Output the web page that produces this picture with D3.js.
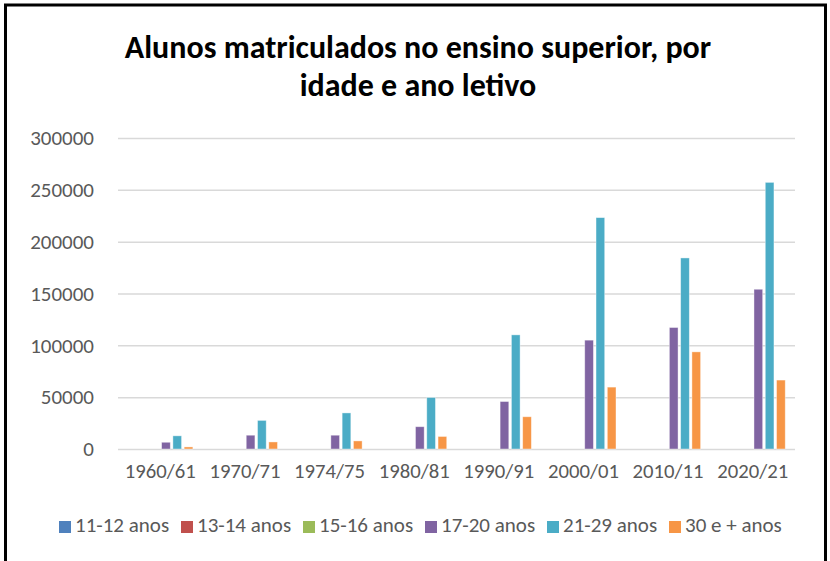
<!DOCTYPE html>
<html>
<head>
<meta charset="utf-8">
<script src="https://cdnjs.cloudflare.com/ajax/libs/d3/7.8.5/d3.min.js"></script>
<style>
  body { margin: 0; background: #fff; }
  svg { display: block; }
</style>
</head>
<body>
<div id="chart"></div>
<script>
var anos = ["1960/61", "1970/71", "1974/75", "1980/81", "1990/91", "2000/01", "2010/11", "2020/21"];
var series = ["11-12 anos", "13-14 anos", "15-16 anos", "17-20 anos", "21-29 anos", "30 e + anos"];
var cores = ["#4F81BD", "#C0504D", "#9BBB59", "#8064A2", "#4BACC6", "#F79646"];

var idade11_12 = [0, 0, 0, 0, 0, 0, 0, 0];
var idade13_14 = [0, 0, 0, 0, 0, 0, 0, 0];
var idade15_16 = [0, 0, 0, 0, 0, 0, 0, 0];
var idade17_20 = [6500, 13300, 13300, 21500, 45800, 105000, 117200, 154100];
var idade21_29 = [12700, 27600, 34800, 49700, 110100, 223200, 184300, 257200];
var idade30mais = [2000, 6800, 7800, 12100, 31100, 59700, 93700, 66500];

var yTicks = [0, 50000, 100000, 150000, 200000, 250000, 300000];

var valores = [idade11_12, idade13_14, idade15_16, idade17_20, idade21_29, idade30mais];

var width = 830, height = 561;
var plot = {left: 118, right: 795, top: 138, bottom: 449};
var fonte = "Carlito, Lato, sans-serif";

var svg = d3.select("#chart").append("svg")
    .attr("width", width)
    .attr("height", height);

// moldura
svg.append("rect")
    .attr("x", 5.5).attr("y", 5)
    .attr("width", 820).attr("height", 600)
    .attr("fill", "white")
    .attr("stroke", "black")
    .attr("stroke-width", 3);

// titulo
var titulo = svg.append("text")
    .attr("text-anchor", "middle")
    .style("font-family", fonte)
    .style("font-weight", "bold")
    .style("font-size", "32px")
    .style("fill", "#000");
titulo.append("tspan").attr("x", 418).attr("y", 58).text("Alunos matriculados no ensino superior, por");
titulo.append("tspan").attr("x", 418).attr("y", 96).text("idade e ano letivo");

var x0 = d3.scaleBand()
    .domain(anos)
    .range([plot.left, plot.right])
    .paddingInner(0.2)
    .paddingOuter(0.1);

var x1 = d3.scaleBand()
    .domain(series)
    .range([0, x0.bandwidth()])
    .paddingInner(0.23)
    .paddingOuter(0.115);

var y = d3.scaleLinear()
    .domain([0, 300000])
    .range([plot.bottom, plot.top]);

// grelha e eixo y
var yAxis = svg.append("g")
    .attr("transform", "translate(" + plot.left + ",0)")
    .call(d3.axisLeft(y).tickValues(yTicks).tickSize(-(plot.right - plot.left)).tickPadding(24).tickFormat(d3.format("d")));
yAxis.select(".domain").remove();
yAxis.selectAll(".tick line").attr("stroke", "#d9d9d9").attr("stroke-width", 1.5);
yAxis.selectAll(".tick text")
    .style("font-family", fonte)
    .style("font-size", "21px")
    .style("fill", "#595959");

// barras
var grupos = svg.append("g").selectAll("g")
    .data(anos)
    .enter().append("g")
    .attr("transform", function(d){ return "translate(" + x0(d) + ",0)"; });

grupos.selectAll("rect")
    .data(function(d, i){
        return series.map(function(s, j){ return {serie: s, valor: valores[j][i], cor: cores[j]}; });
    })
    .enter().append("rect")
    .attr("x", function(d){ return x1(d.serie); })
    .attr("y", function(d){ return y(d.valor); })
    .attr("width", x1.bandwidth())
    .attr("height", function(d){ return y(0) - y(d.valor); })
    .attr("fill", function(d){ return d.cor; })
    .attr("stroke", "white")
    .attr("stroke-opacity", 0.5)
    .attr("stroke-width", 0.8);

// eixo x
var xAxis = svg.append("g")
    .attr("transform", "translate(0," + plot.bottom + ")")
    .call(d3.axisBottom(x0).tickSize(0).tickPadding(14));
xAxis.select(".domain").remove();
xAxis.selectAll(".tick text")
    .style("font-family", fonte)
    .style("font-size", "20.7px")
    .style("fill", "#595959");

// legenda
var legenda = svg.append("g").selectAll("g")
    .data(series)
    .enter().append("g")
    .attr("transform", function(d, i){ return "translate(" + (59 + i * 122) + ",521)"; });

legenda.append("rect")
    .attr("width", 12).attr("height", 12)
    .attr("fill", function(d, i){ return cores[i]; });

legenda.append("text")
    .attr("x", 16).attr("y", 11)
    .style("font-family", fonte)
    .style("font-size", "21px")
    .style("fill", "#595959")
    .text(function(d){ return d; });
</script>
</body>
</html>
